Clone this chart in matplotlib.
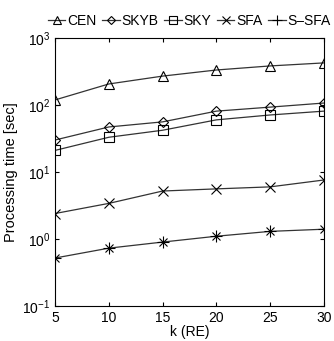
import matplotlib
matplotlib.use("Agg")
import matplotlib.pyplot as plt

k = [5, 10, 15, 20, 25, 30]
cen = [119, 206, 270, 333, 383, 425]
skyb = [30, 47, 56, 81, 93, 107]
sky = [21, 33, 42, 60, 71, 81]
sfa = [2.4, 3.4, 5.2, 5.6, 6.0, 7.6]
ssfa = [0.52, 0.73, 0.9, 1.1, 1.3, 1.4]

plt.rcParams['font.family'] = ['Liberation Sans', 'DejaVu Sans']
fig = plt.figure(figsize=(3.34, 3.41), dpi=100)
ax = fig.add_axes([55/334, 1-306/341, (324-55)/334, (306-38)/341])

series = [(cen, '^', 'CEN', 7), (skyb, 'D', 'SKYB', 5), (sky, 's', 'SKY', 7),
          (sfa, 'x', 'SFA', 7), (ssfa, '+', 'S\u2013SFA', 8)]
handles = []
for vals, m, lab, ms in series:
    h, = ax.plot(k, vals, color='#333333', lw=0.9, marker=m, ms=ms, mew=0.8,
                 mfc='none', mec='black', label=lab)
    if m == '+':
        ax.plot(k, vals, lw=0, marker='x', ms=6, mew=0.8, color='black')
    handles.append(h)

ax.set_yscale('log')
ax.set_ylim(0.1, 1000)
ax.set_xlim(5, 30)
ax.set_xticks(k)
ax.minorticks_off()
ax.tick_params(direction='in', top=True, right=True, labelsize=10, length=3)
ax.set_xlabel('k (RE)', fontsize=10, labelpad=0)
ax.set_ylabel('Processing time [sec]', fontsize=10.5, labelpad=3)
ax.legend(handles=handles, loc='lower center', bbox_to_anchor=(0.5, 1.0), ncol=5,
          frameon=False, fontsize=10, handlelength=1.25, handletextpad=0.15,
          columnspacing=0.4, borderpad=0.2, markerscale=0.85)
fig.savefig('out.png', dpi=100)
